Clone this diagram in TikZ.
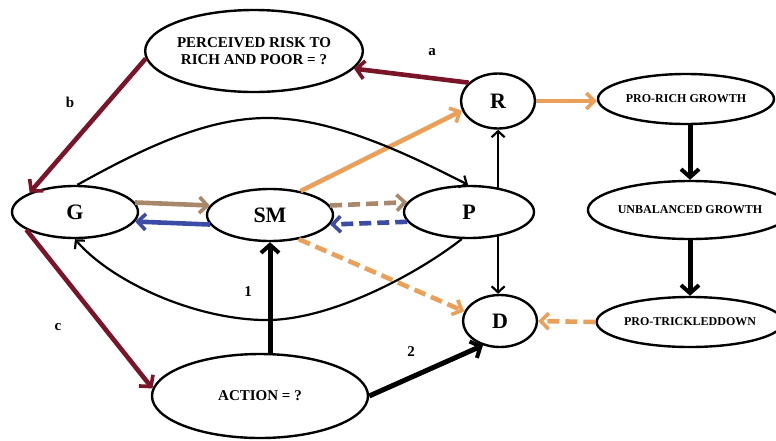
\documentclass[tikz,border=0pt]{standalone}
\usepackage{fontspec}
\setmainfont{Liberation Serif}
\usetikzlibrary{shapes.geometric,arrows.meta}
\definecolor{maroon}{HTML}{7A1428}
\definecolor{tan}{HTML}{A8876A}
\definecolor{bluea}{HTML}{3C4BA5}
\definecolor{orng}{HTML}{EBA05A}
\tikzset{
  ell/.style={ellipse,draw,line width=2.4pt,inner sep=0pt,font=\bfseries},
  big/.style={font=\fontsize{22}{22}\selectfont\bfseries},
  lab/.style={font=\fontsize{15}{15}\selectfont\bfseries},
  redarr/.style={draw=maroon,line width=4.6pt,-{Straight Barb[length=8pt,width=18pt,line width=3.6pt]}},
  colarr/.style={line width=4.6pt,-{Straight Barb[length=8pt,width=16pt,line width=3.6pt]}},
  thinarr/.style={line width=2.2pt,-{Straight Barb[length=6pt,width=13pt,line width=2.2pt]}},
  thickarr/.style={line width=5pt,-{Straight Barb[length=8pt,width=18pt,line width=4pt]}},
  dsh/.style={dash pattern=on 12pt off 6pt}
}
\begin{document}
\begin{tikzpicture}[x=1pt,y=-1pt]
\useasboundingbox (0,0) rectangle (776,440);
% nodes
\node[ell,minimum width=216pt,minimum height=82pt,align=center,font=\fontsize{15}{17}\selectfont\bfseries] (PR) at (254,51) {PERCEIVED RISK TO\\RICH AND POOR = ?};
\node[ell,big,minimum width=126pt,minimum height=52pt] (G) at (75,212) {G};
\node[ell,big,minimum width=126pt,minimum height=52pt] (SM) at (270,215) {SM};
\node[ell,big,minimum width=130pt,minimum height=52pt] (P) at (469,212) {P};
\node[ell,big,minimum width=74pt,minimum height=55pt] (R) at (498,101) {R};
\node[ell,big,minimum width=74pt,minimum height=52pt] (D) at (500,321) {D};
\node[ell,minimum width=176pt,minimum height=50pt,font=\fontsize{12}{12}\selectfont\bfseries] (PRG) at (686,99) {PRO-RICH GROWTH};
\node[ell,minimum width=160pt,minimum height=58pt,font=\fontsize{12}{12}\selectfont\bfseries] (UG) at (690,210) {UNBALANCED GROWTH};
\node[ell,minimum width=176pt,minimum height=50pt,font=\fontsize{12}{12}\selectfont\bfseries] (PT) at (690,322) {PRO-TRICKLEDDOWN};
\node[ell,minimum width=216pt,minimum height=84pt,font=\fontsize{15}{15}\selectfont\bfseries] (A) at (260,396) {ACTION = ?};
% labels
\node[lab] (la) at (432,52) {a};
\node[lab] (lb) at (70,102) {b};
\node[lab] (lc) at (58,327) {c};
\node[lab] (l1) at (248,292) {1};
\node[lab] (l2) at (411,352) {2};
% maroon arrows
\draw[redarr] (R.148) -- (PR.-10);
\draw[redarr] (PR.184) -- (G.157);
\draw[redarr] (G.200) -- (A.176);
% G <-> SM <-> P
\draw[colarr,draw=tan] (G.9) -- (SM.171);
\draw[colarr,draw=bluea] (SM.189) -- (G.351);
\draw[colarr,draw=tan,dsh] (SM.9) -- (P.171);
\draw[colarr,draw=bluea,dsh] (P.189) -- (SM.351);
% orange
\draw[colarr,draw=orng] (SM.38) -- (R.195);
\draw[colarr,draw=orng,dsh] (SM.-40) -- (D.165);
\draw[colarr,draw=orng] (R.east) -- (R.east -| PRG.west);
\draw[colarr,draw=orng,dsh] (PT.west) -- (D.east);
% right column
\draw[thickarr] (PRG.south -| UG.north) -- (UG.north);
\draw[thickarr] (UG.south) -- (PT.north);
% P -> R, P -> D
\draw[thinarr] (P.40) -- (P.40 |- R.south);
\draw[thinarr] (P.-40) -- (P.-40 |- D.north);
% action arrows
\draw[thickarr] (A.north -| SM.south) -- (SM.south);
\draw[thickarr] (A.east) -- (D.-125);
% curves
\draw[thinarr] (G.85) .. controls (140,150) and (205,118) .. (267,118) .. controls (330,118) and (400,150) .. (P.92);
\draw[thinarr] (P.-105) .. controls (420,272) and (330,322) .. (262,320) .. controls (190,318) and (110,280) .. (G.-90);
\end{tikzpicture}
\end{document}
